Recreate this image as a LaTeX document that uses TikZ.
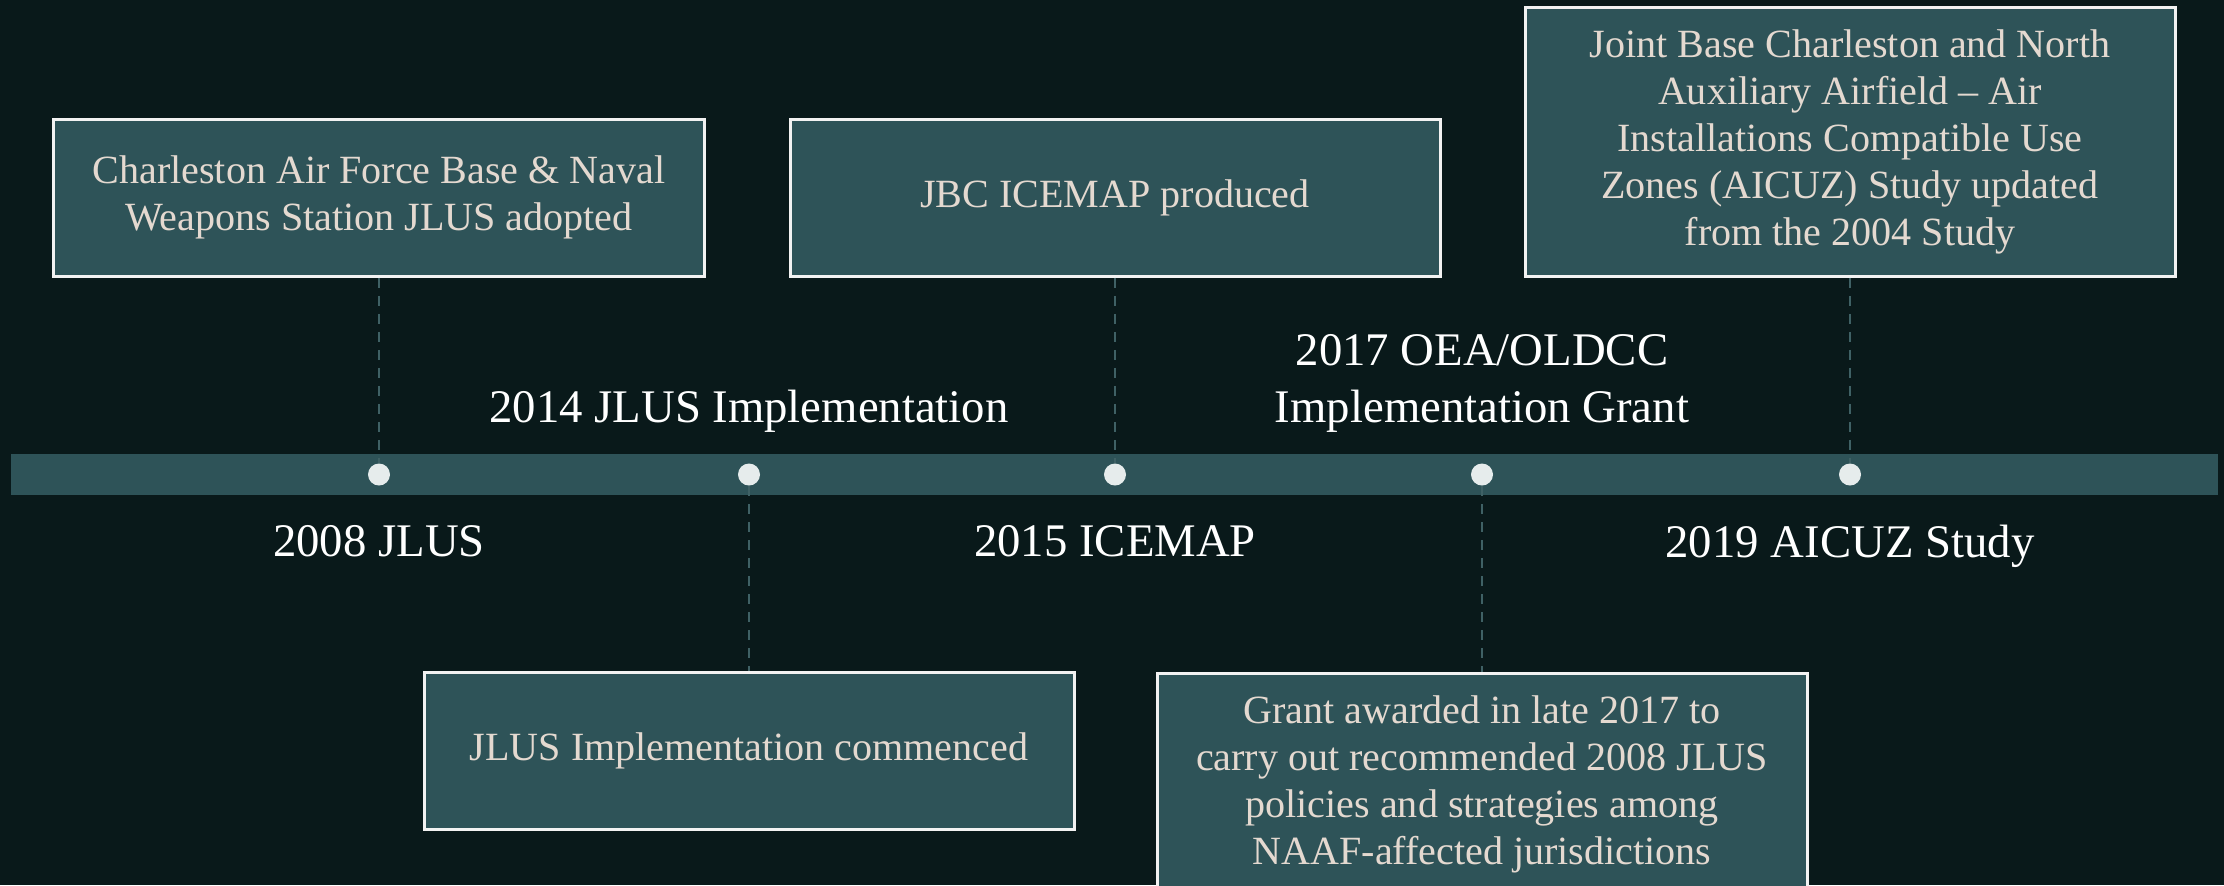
\documentclass[tikz,border=0pt]{standalone}
\usepackage{fontspec}
\setmainfont{Liberation Serif}
\usetikzlibrary{positioning}

\definecolor{nightbg}{HTML}{09191A}
\definecolor{slateteal}{HTML}{2E5358}
\definecolor{sand}{HTML}{E4D9D0}
\definecolor{pearl}{HTML}{E6ECEC}

\begin{document}
\begin{tikzpicture}[
    event/.style={draw=white!95!black, line width=0.03cm, fill=slateteal, align=center, text=sand, minimum width=6.5cm, minimum height=1.57cm, inner xsep=2mm, inner ysep=2.2mm, font=\fontsize{11.4}{13.4}\selectfont},
    year/.style={text=white, align=center, inner sep=0pt, font=\fontsize{13.3}{16.2}\selectfont},
    dot/.style={circle, fill=pearl, minimum size=0.22cm, inner sep=0pt},
    link/.style={slateteal!92!white, line width=0.025cm, dash pattern=on 0.1cm off 0.08cm}
]

% Page frame (the grant box runs off the bottom edge)
\useasboundingbox (0,0) rectangle (22.24,-8.85);
\clip (0,0) rectangle (22.24,-8.85);
\fill[nightbg] (0,0) rectangle (22.24,-8.85);

% Timeline bar and milestone dots
\node[fill=slateteal, minimum width=22.07cm, minimum height=0.41cm, inner sep=0pt] (timeline) at (11.145,-4.745) {};
\node[dot] (d2008) at (3.79,-4.745) {};
\node[dot] (d2014) at (7.49,-4.745) {};
\node[dot] (d2015) at (11.15,-4.745) {};
\node[dot] (d2017) at (14.82,-4.745) {};
\node[dot] (d2019) at (18.50,-4.745) {};

% Events above the bar
\node[event, above=1.85cm of d2008] (adopted) {Charleston Air Force Base \& Naval\\Weapons Station JLUS adopted};
\node[event, above=1.85cm of d2015] (icemap) {JBC ICEMAP produced};
\node[event, above=1.85cm of d2019] (aicuz) {Joint Base Charleston and North\\Auxiliary Airfield -- Air\\Installations Compatible Use\\Zones (AICUZ) Study updated\\from the 2004 Study};

% Events below the bar
\node[event, below=1.85cm of d2014] (commenced) {JLUS Implementation commenced};
\node[event, below=1.86cm of d2017] (grant) {Grant awarded in late 2017 to\\carry out recommended 2008 JLUS\\policies and strategies among\\NAAF-affected jurisdictions};

% Year labels
\node[year, below=0.38cm of d2008] (l2008) {2008 JLUS};
\node[year, above=0.3cm of d2014] (l2014) {2014 JLUS Implementation};
\node[year, below=0.38cm of d2015] (l2015) {2015 ICEMAP};
\node[year, above=0.3cm of d2017] (l2017) {2017 OEA/OLDCC\\Implementation Grant};
\node[year, below=0.38cm of d2019] (l2019) {2019 AICUZ Study};

% Dashed leaders from boxes to dots
\draw[link] (adopted.south) -- (d2008.north);
\draw[link] (icemap.south) -- (d2015.north);
\draw[link] (aicuz.south) -- (d2019.north);
\draw[link] (d2014.south) -- (commenced.north);
\draw[link] (d2017.south) -- (grant.north);

\end{tikzpicture}
\end{document}
